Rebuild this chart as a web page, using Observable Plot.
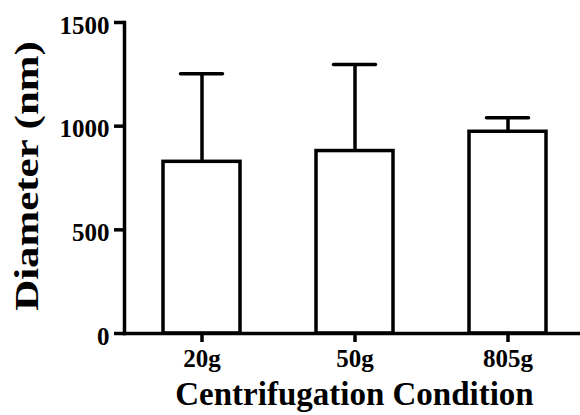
<!DOCTYPE html>
<html>
<head>
<meta charset="utf-8">
<script src="https://cdn.jsdelivr.net/npm/d3@7"></script>
<script src="https://cdn.jsdelivr.net/npm/@observablehq/plot@0.6"></script>
<style>
  html, body { margin: 0; padding: 0; background: #fff; }
</style>
</head>
<body>
<div id="chart"></div>
<script>
const conditions = ["20g", "50g", "805g"];
const means = [828, 880, 973];
const upperErrors = [1253, 1297, 1041];
const yTicks = [0, 500, 1000, 1500];

const data = conditions.map((c, i) => ({condition: c, mean: means[i], upper: upperErrors[i]}));

const sw = 3.5;
const serif = "'Liberation Serif', 'Times New Roman', serif";

const chart = Plot.plot({
  width: 580,
  height: 415,
  marginLeft: 124,
  marginRight: 0,
  marginTop: 22,
  marginBottom: 82,
  style: {color: "#000", background: "#fff"},
  x: {domain: conditions, range: [124, 585], paddingInner: 0.5, paddingOuter: 0.25, align: 0.5},
  y: {domain: [0, 1500]},
  marks: [
    Plot.ruleX(data, {x: "condition", y1: "mean", y2: "upper", stroke: "#000", strokeWidth: sw}),
    Plot.tickY(data, {x: "condition", y: "upper", stroke: "#000", strokeWidth: sw, strokeLinecap: "round", insetLeft: 17.5, insetRight: 17.5}),
    Plot.barY(data, {x: "condition", y: "mean", fill: "#fff", stroke: "#000", strokeWidth: sw, strokeLinejoin: "miter"}),
    Plot.frame({anchor: "left", stroke: "#000", strokeWidth: sw}),
    Plot.frame({anchor: "bottom", stroke: "#000", strokeWidth: sw}),
    Plot.axisY({ticks: yTicks, tickSize: 10, tickPadding: 5, fontSize: 25, tickFormat: d => String(d), strokeWidth: sw, label: null}),
    Plot.axisX({tickSize: 9, tickPadding: 7, fontSize: 25, strokeWidth: sw, label: null}),
    Plot.text(["Centrifugation Condition"], {frameAnchor: "bottom", dx: 2, dy: 61, fontSize: 33, lineAnchor: "middle", fill: "#000"}),
    Plot.text(["Diameter (nm)"], {frameAnchor: "left", textAnchor: "middle", dx: -97, dy: -2, rotate: -90, fontSize: 33, lineAnchor: "middle", fill: "#000"})
  ]
});

document.getElementById("chart").appendChild(chart);

chart.querySelectorAll("text").forEach(t => {
  t.style.fontFamily = serif;
  t.style.fontWeight = "bold";
  if (t.textContent === "Diameter (nm)") {
    const tr = t.getAttribute("transform") || "";
    t.setAttribute("transform", tr + " scale(1.3,1)");
  }
});
// nudge the y tick labels down slightly, as in the reference
chart.querySelectorAll("g[aria-label='y-axis tick label']").forEach(g => {
  const tr = g.getAttribute("transform") || "";
  g.setAttribute("transform", "translate(0,3) " + tr);
});
</script>
</body>
</html>
